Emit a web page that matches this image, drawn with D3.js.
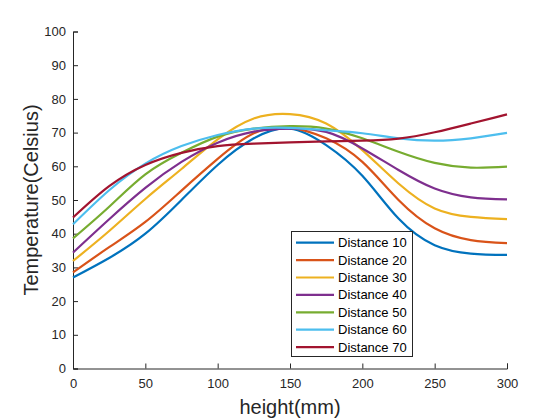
<!DOCTYPE html>
<html><head><meta charset="utf-8">
<script src="https://cdn.jsdelivr.net/npm/d3@7"></script>
<style>body{margin:0;background:#fff;} text{font-family:"Liberation Sans",Arial,sans-serif;}</style>
</head><body>
<svg id="c" width="560" height="420"></svg>
<script>
const xs = [0,25,50,75,100,125,150,175,200,225,250,275,300];
const seriesNames = ["Distance 10","Distance 20","Distance 30","Distance 40","Distance 50","Distance 60","Distance 70"];
const d10 = [27,32.8,40,50,60.4,68.3,71.2,66.3,57.2,44.5,36.6,34.1,33.7];
const d20 = [28.5,36,43.5,52.8,62.2,69.8,71.4,68.3,61.3,50,41.6,38.1,37.2];
const d30 = [31.9,40.8,50.3,59.2,68,74.2,75.5,72.7,64.8,54.9,47.5,45,44.3];
const d40 = [34.4,44.3,53.6,61.3,67,70.3,71.2,70.2,65.3,58.9,53.4,50.8,50.2];
const d50 = [38.6,48,57.6,64,68.8,71.2,71.9,71.2,68.3,64.3,61,59.6,59.9];
const d60 = [42.8,52.9,60.8,66,69.3,71.2,71.4,70.7,69.8,68.3,67.6,68.3,69.9];
const d70 = [44.8,54.1,60.4,64,66,66.7,67.1,67.4,67.6,68.2,70.1,72.7,75.4];
const xTicks = [0,50,100,150,200,250,300];
const yTicks = [0,10,20,30,40,50,60,70,80,90,100];
const colors = ["#0072BD","#D95319","#EDB120","#7E2F8E","#77AC30","#4DBEEE","#A2142F"];
const allSeries = [d10,d20,d30,d40,d50,d60,d70];

const svg = d3.select("#c");
const x = d3.scaleLinear().domain([0,300]).range([73,507]);
const y = d3.scaleLinear().domain([0,100]).range([368.5,31.5]);
const axisCol = "#262626";

const gx = svg.append("g").attr("transform","translate(0,368.5)")
  .call(d3.axisBottom(x).tickValues(xTicks).tickSize(-5).tickPadding(10).tickFormat(d3.format("d")));
const gy = svg.append("g").attr("transform","translate(73,0)")
  .call(d3.axisLeft(y).tickValues(yTicks).tickSize(-5).tickPadding(7).tickFormat(d3.format("d")));
[gx,gy].forEach(g=>{
  g.select(".domain").attr("stroke",axisCol).attr("stroke-width",1);
  g.selectAll(".tick line").attr("stroke",axisCol);
  g.selectAll(".tick text").attr("fill",axisCol).style("font-size","13px").style("font-family","Liberation Sans, Arial, sans-serif");
});

const line = d3.line().x((d,i)=>x(xs[i])).y(d=>y(d)).curve(d3.curveNatural);
allSeries.forEach((s,i)=>{
  svg.append("path").datum(s).attr("d",line).attr("fill","none")
    .attr("stroke",colors[i]).attr("stroke-width",2.2);
});

svg.append("text").attr("x",290).attr("y",414).attr("text-anchor","middle")
  .attr("fill",axisCol).style("font-size","20px").text("height(mm)");
svg.append("text").attr("transform","translate(38,200) rotate(-90)").attr("text-anchor","middle")
  .attr("fill",axisCol).style("font-size","20px").text("Temperature(Celsius)");

const lg = svg.append("g");
lg.append("rect").attr("x",291.5).attr("y",231.5).attr("width",121).attr("height",125)
  .attr("fill","#fff").attr("stroke",axisCol).attr("stroke-width",1);
seriesNames.forEach((n,i)=>{
  const yy = 242.7 + i*17.4;
  lg.append("line").attr("x1",296).attr("x2",334).attr("y1",yy).attr("y2",yy)
    .attr("stroke",colors[i]).attr("stroke-width",2.2);
  lg.append("text").attr("x",338).attr("y",yy+4.5).attr("fill","#000")
    .style("font-size","13px").text(n);
});
</script>
</body></html>
